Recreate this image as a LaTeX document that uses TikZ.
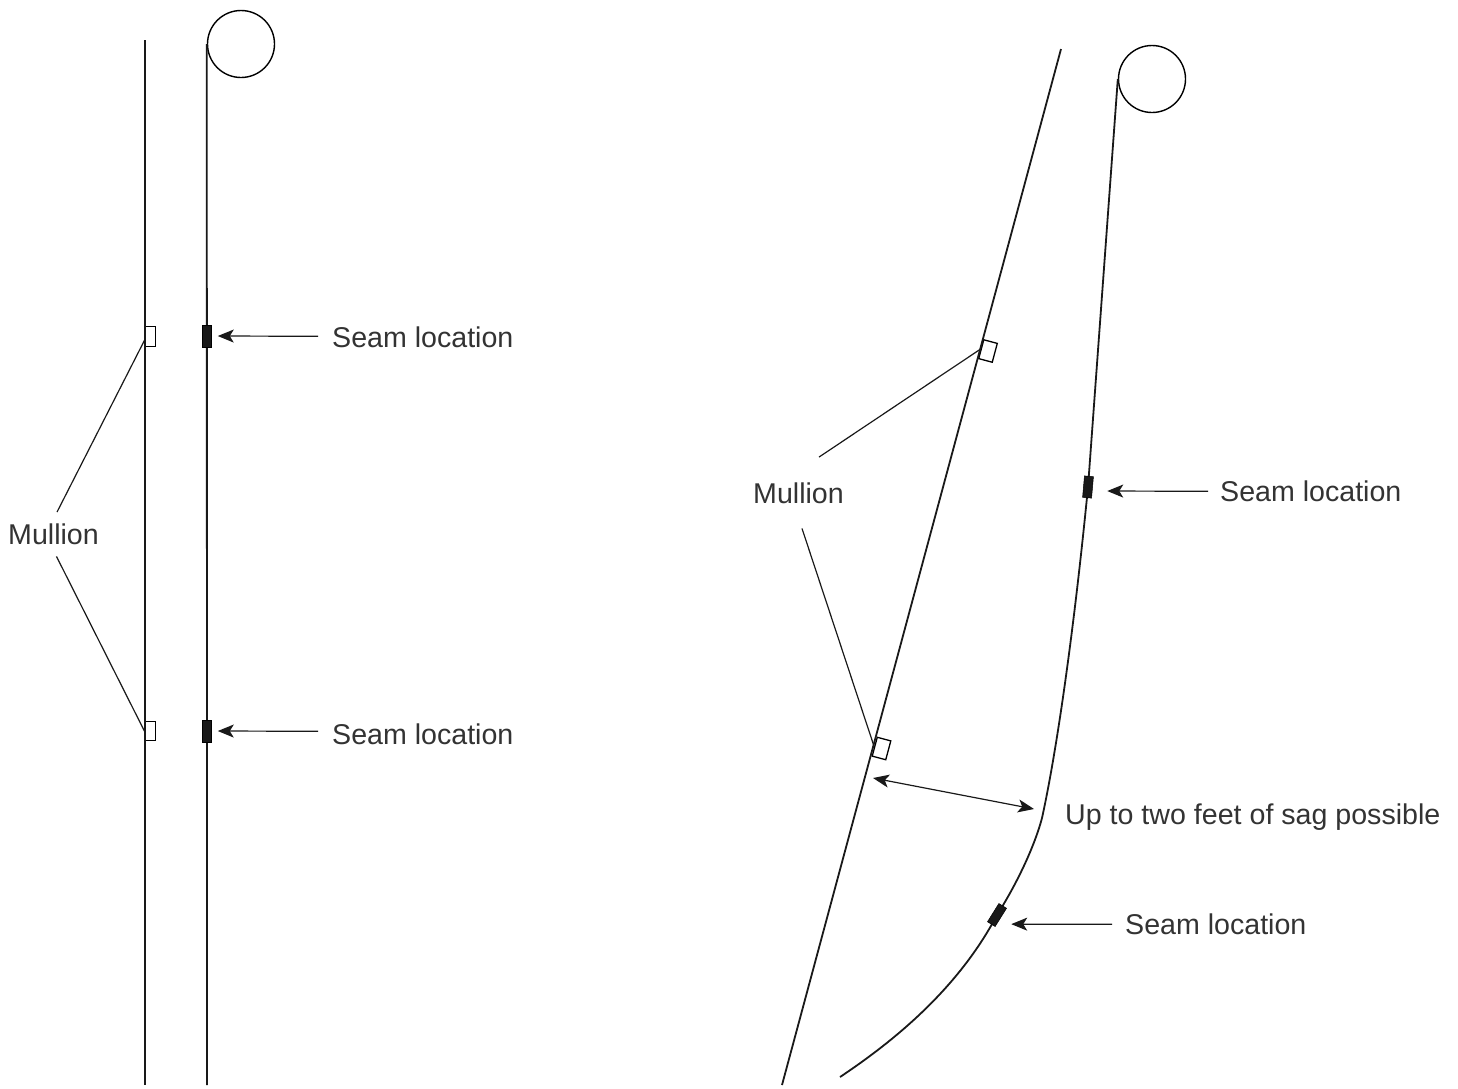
\documentclass[tikz,border=0pt]{standalone}
\usepackage{fontspec}
\setmainfont{Liberation Sans}
\usetikzlibrary{arrows.meta}
\tikzset{
    roller-circle/.style = {draw, circle, line width=1.4pt, minimum size=67pt, inner sep=0pt},
    seam-box/.style = {draw, fill=black!90, rectangle, line width=0.5pt, minimum width=9pt, minimum height=21.5pt, inner sep=0pt},
    mullion-box/.style = {draw, fill=white, rectangle, line width=1.3pt, minimum height=19.5pt, inner sep=0pt},
    label-text/.style = {inner sep=0pt, anchor=base west, text=black!80, font=\fontsize{28.6}{32}\selectfont},
    sheet-line/.style = {line width=1.8pt, black!90},
    leader-line/.style = {line width=1.2pt, black!90},
    seam-arrow/.style = {line width=1.2pt, black!90, -{Stealth[length=16pt,width=13pt,inset=4pt]}},
    sag-arrow/.style = {line width=1.2pt, black!90, {Stealth[length=16pt,width=13pt,inset=4pt]}-{Stealth[length=16pt,width=13pt,inset=4pt]}},
}
\begin{document}
\begin{tikzpicture}[x=1pt,y=-1pt]
\useasboundingbox (0,0) rectangle (1458,1088);
% hanging straight
\coordinate (mullion-top) at (145,40);
\coordinate (mullion-bottom) at (145,1085);
\coordinate (sheet-bottom) at (207,1085);
\node [mullion-box, minimum width=10.5pt] (box-a) at (150.3,336.5) {};
\node [mullion-box, minimum width=10.5pt] (box-b) at (150.3,731) {};
\draw [sheet-line] (mullion-top) -- (mullion-bottom);
\node [roller-circle] (roller) at (241,44) {};
\draw [sheet-line] (roller.west) -- (sheet-bottom);
\node [seam-box] (seam-a) at (207,336) {};
\node [seam-box] (seam-b) at (207,731) {};
\node [label-text] (label-a) at (332,347) {Seam location};
\node [label-text] (label-b) at (332,744) {Seam location};
\node [label-text] (mullion-label) at (8,544) {Mullion};
\draw [seam-arrow] ([xshift=-14pt,yshift=0.5pt]label-a.west) -- ([xshift=6pt]seam-a.east);
\draw [seam-arrow] ([xshift=-14pt,yshift=2.5pt]label-b.west) -- ([xshift=6pt]seam-b.east);
\draw [leader-line] ([xshift=3.5pt,yshift=11pt]mullion-label.north) -- ([yshift=-4pt]box-a.west);
\draw [leader-line] ([xshift=3pt,yshift=-12pt]mullion-label.south) -- (box-b.west);
% hanging with sag
\coordinate (frame-top) at (1061,49);
\coordinate (frame-bottom) at (782,1085);
\coordinate (curtain-end) at (840,1077);
\node [mullion-box, minimum width=14pt, rotate=-15] (box-c) at (988,351) {};
\node [mullion-box, minimum width=14pt, rotate=-15] (box-d) at (881.5,748.5) {};
\draw [sheet-line] (frame-top) -- (frame-bottom);
\node [roller-circle] (roller-sag) at (1152,79) {};
\coordinate (curtain-a) at (1088,487);
\coordinate (curtain-b) at (1042,818);
\coordinate (curtain-c) at (997,915);
\draw [sheet-line] (roller-sag.west) -- (curtain-a)
    .. controls (1075,620) and (1058,745) .. (curtain-b)
    .. controls (1034,848) and (1016,885) .. (curtain-c)
    .. controls (960,985) and (900,1037) .. (curtain-end);
\node [seam-box, rotate=-5] (seam-c) at (curtain-a) {};
\node [seam-box, rotate=-32] (seam-d) at (curtain-c) {};
\node [label-text] (label-c) at (1220,501) {Seam location};
\node [label-text] (label-d) at (1125,934) {Seam location};
\node [label-text] (label-sag) at (1065,824) {Up to two feet of sag possible};
\node [label-text] (mullion-sag) at (753,503) {Mullion};
\draw [seam-arrow] ([xshift=-12pt,yshift=-0.5pt]label-c.west) -- ([xshift=14.5pt,yshift=-3.6pt]seam-c.east);
\draw [seam-arrow] ([xshift=-13pt,yshift=-0.5pt]label-d.west) -- ([xshift=10.2pt,yshift=-6.6pt]seam-d.east);
\coordinate (sag-left) at (873,778);
\coordinate (sag-right) at (1034,809);
\draw [sag-arrow] (sag-left) -- (sag-right);
\draw [leader-line] ([xshift=20.5pt,yshift=25pt]mullion-sag.north) -- (box-c.west);
\draw [leader-line] ([xshift=3.5pt,yshift=-25pt]mullion-sag.south) -- (box-d.west);
\end{tikzpicture}
\end{document}
